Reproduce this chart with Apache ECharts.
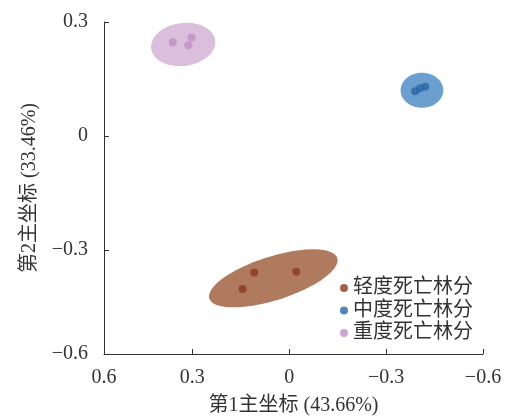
<!DOCTYPE html>
<html>
<head>
<meta charset="utf-8">
<script src="https://cdn.jsdelivr.net/npm/echarts@6/dist/echarts.min.js"></script>
<style>html,body{margin:0;padding:0;background:#fff}#c{width:507px;height:417px}</style>
</head>
<body>
<div id="c"></div>
<script>
// ---- data ----
const groupNames = ['轻度死亡林分', '中度死亡林分', '重度死亡林分'];
const lightPts = [[0.108, -0.359], [-0.022, -0.357], [0.144, -0.402]];
const mediumPts = [[-0.390, 0.118], [-0.405, 0.126], [-0.421, 0.130]];
const heavyPts = [[0.360, 0.247], [0.302, 0.259], [0.312, 0.239]];
// ellipse: [centerX, centerY, semiAxis1 dx, dy, semiAxis2 dx, dy] (data units)
const lightEllipse = [0.049, -0.374, -0.198, 0.053, -0.0195, -0.055];
const mediumEllipse = [-0.411, 0.1205, -0.066, 0, 0, -0.046];
const heavyEllipse = [0.328, 0.241, -0.099, 0.0105, -0.008, -0.056];
const xTickValues = [0.573, 0.3, 0, -0.3, -0.6];
const xTickLabels = ['0.6', '0.3', '0', '\u22120.3', '\u22120.6'];
const yTickValues = [-0.573, -0.3, 0, 0.3];
const yTickLabels = ['\u22120.6', '\u22120.3', '0', '0.3'];
const xAxisName = '第1主坐标 (43.66%)';
const yAxisName = '第2主坐标 (33.46%)';

const pointColors = ['#8b3a1f', '#2a66a8', '#c28fc2'];
const fillColors = ['#b07a5f', '#6b9fd0', '#dbbedb'];
const FONT = "'Liberation Serif', 'Noto Sans CJK SC', serif";

function lookup(vals, labels) {
  return function (v) {
    let best = 0, bd = Infinity;
    vals.forEach((t, i) => { const d = Math.abs(t - v); if (d < bd) { bd = d; best = i; } });
    return labels[best];
  };
}

function ellipseSeries(name, params, color) {
  return {
    type: 'custom',
    name: name,
    silent: true,
    z: 1,
    data: [params],
    encode: { x: 0, y: 1 },
    renderItem: function (p, api) {
      const cx = api.value(0), cy = api.value(1);
      const ux = api.value(2), uy = api.value(3), vx = api.value(4), vy = api.value(5);
      const pts = [];
      for (let i = 0; i < 120; i++) {
        const t = i / 120 * Math.PI * 2;
        pts.push(api.coord([cx + ux * Math.cos(t) + vx * Math.sin(t), cy + uy * Math.cos(t) + vy * Math.sin(t)]));
      }
      return { type: 'polygon', shape: { points: pts }, style: { fill: color } };
    }
  };
}

function pointSeries(name, data, color) {
  return {
    type: 'scatter', name: name, data: data, symbol: 'circle', symbolSize: 8,
    itemStyle: { color: color }, z: 3
  };
}

const axisLineStyle = { color: '#333', width: 1 };

const chart = echarts.init(document.getElementById('c'));
chart.setOption({
  animation: false,
  grid: { left: 104, right: 24, top: 22, bottom: 63, containLabel: false, outerBoundsMode: 'none' },
  legend: {
    data: groupNames,
    orient: 'vertical',
    left: 335, top: 273,
    icon: 'circle', itemWidth: 8, itemHeight: 8, itemGap: 2.5, itemTextGap: 9,
    textStyle: { fontFamily: FONT, fontSize: 20, color: '#333', lineHeight: 20 }
  },
  xAxis: {
    type: 'value', inverse: true, min: -0.6, max: 0.573,
    name: xAxisName, nameLocation: 'middle', nameGap: 42,
    nameTextStyle: { fontFamily: FONT, fontSize: 20, color: '#333' },
    axisLine: { show: true, onZero: false, lineStyle: axisLineStyle },
    axisTick: { show: true, inside: true, length: 5, lineStyle: axisLineStyle, customValues: xTickValues },
    axisLabel: { fontFamily: FONT, fontSize: 20, color: '#333', margin: 14, customValues: xTickValues, formatter: lookup(xTickValues, xTickLabels) },
    splitLine: { show: false }
  },
  yAxis: {
    type: 'value', min: -0.573, max: 0.3,
    name: yAxisName, nameLocation: 'middle', nameGap: 64, nameRotate: 90,
    nameTextStyle: { fontFamily: FONT, fontSize: 20, color: '#333' },
    axisLine: { show: true, onZero: false, lineStyle: axisLineStyle },
    axisTick: { show: true, inside: true, length: 5, lineStyle: axisLineStyle, customValues: yTickValues },
    axisLabel: { fontFamily: FONT, fontSize: 20, color: '#333', margin: 16, customValues: yTickValues, formatter: lookup(yTickValues, yTickLabels) },
    splitLine: { show: false }
  },
  series: [
    ellipseSeries('e1', lightEllipse, fillColors[0]),
    ellipseSeries('e2', mediumEllipse, fillColors[1]),
    ellipseSeries('e3', heavyEllipse, fillColors[2]),
    pointSeries(groupNames[0], lightPts, pointColors[0]),
    pointSeries(groupNames[1], mediumPts, pointColors[1]),
    pointSeries(groupNames[2], heavyPts, pointColors[2])
  ]
});
</script>
</body>
</html>
